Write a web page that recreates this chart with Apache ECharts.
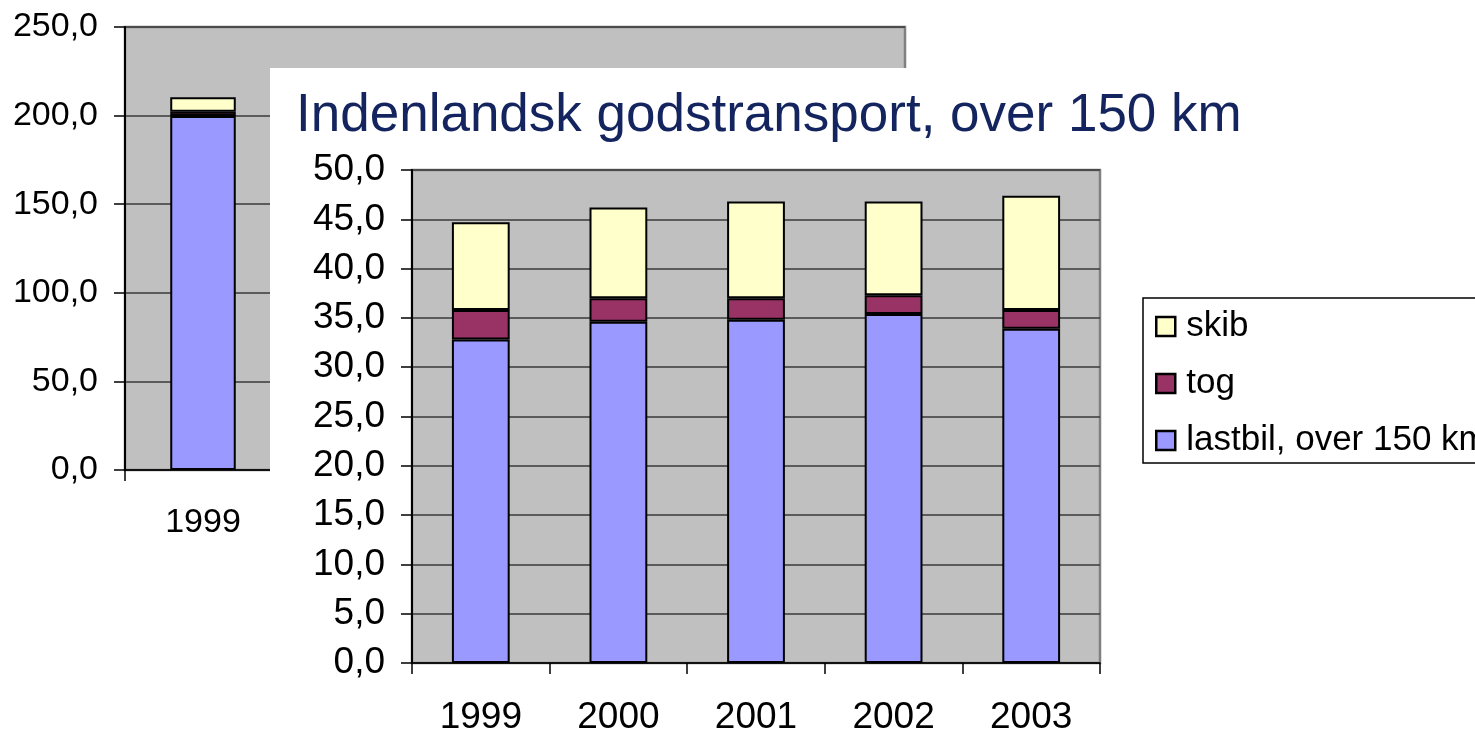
<!DOCTYPE html>
<html>
<head>
<meta charset="utf-8">
<script src="https://cdn.jsdelivr.net/npm/echarts@6/dist/echarts.min.js"></script>
<style>
  html, body { margin: 0; padding: 0; background: #fff; }
  #wrap { position: relative; width: 1475px; height: 736px; overflow: hidden; background: #fff; }
  #back { position: absolute; left: 0; top: 0; width: 1475px; height: 736px; }
  #front { position: absolute; left: 270px; top: 68px; width: 1205px; height: 668px; background: #fff; }
</style>
</head>
<body>
<div id="wrap">
  <div id="back"></div>
  <div id="front"></div>
</div>
<script>
// categories
const years = ['1999', '2000', '2001', '2002', '2003']

// front chart, values
const lastbil = [32.8, 34.6, 34.8, 35.4, 33.9]
const tog = [3.0, 2.4, 2.2, 1.9, 1.9]
const skib = [8.9, 9.2, 9.8, 9.5, 11.6]

// chart behind, only 1999 can be seen
const backLastbil = [199.8, null, null, null, null]
const backTog = [2.4, null, null, null, null]
const backSkib = [8.2, null, null, null, null]

const legendNames = ['skib', 'tog', 'lastbil, over 150 km']
const colors = { lastbil: '#9999FF', tog: '#993366', skib: '#FFFFCC' }

const fontFamily = 'Liberation Sans, Arial, sans-serif'
const fmt = (v) => v.toFixed(1).replace('.', ',')

function barSeries(name, data, color, stack) {
  return {
    name: name,
    type: 'bar',
    stack: stack,
    data: data,
    barWidth: '42%',
    itemStyle: {
      color: color,
      borderColor: '#000',
      borderWidth: 2
    }
  }
}

function axes(max, interval, fontSize, labelMargin) {
  return {
    xAxis: {
      type: 'category',
      data: years,
      axisLine: { show: true, lineStyle: { color: '#000', width: 1.5 } },
      axisTick: { show: true, alignWithLabel: false, length: 11, lineStyle: { color: '#000', width: 1.5 } },
      axisLabel: { color: '#000', fontSize: fontSize, fontFamily: fontFamily, margin: labelMargin },
      splitLine: { show: false }
    },
    yAxis: {
      type: 'value',
      min: 0,
      max: max,
      interval: interval,
      axisLine: { show: true, lineStyle: { color: '#000', width: 2 } },
      axisTick: { show: true, length: 11, lineStyle: { color: '#000', width: 1.5 } },
      axisLabel: {
        color: '#000',
        fontSize: fontSize,
        fontFamily: fontFamily,
        margin: 27,
        formatter: fmt
      },
      splitLine: { show: true, lineStyle: { color: '#3a3a3a', width: 1.5 } }
    }
  }
}

const backChart = echarts.init(document.getElementById('back'))
const backAxes = axes(250, 50, 34, 36)
backChart.setOption({
  animation: false,
  grid: {
    left: 125,
    top: 27,
    width: 780,
    height: 443,
    show: true,
    backgroundColor: '#C0C0C0',
    borderColor: '#808080',
    borderWidth: 2.5
  },
  xAxis: backAxes.xAxis,
  yAxis: backAxes.yAxis,
  series: [
    barSeries('lastbil', backLastbil, colors.lastbil, 'b'),
    barSeries('tog', backTog, colors.tog, 'b'),
    barSeries('skib', backSkib, colors.skib, 'b')
  ]
})

const frontChart = echarts.init(document.getElementById('front'))
const frontAxes = axes(50, 5, 37, 36)
frontChart.setOption({
  animation: false,
  title: {
    text: 'Indenlandsk godstransport, over 150 km',
    left: 26,
    top: 22,
    padding: 0,
    textStyle: {
      color: '#13245E',
      fontSize: 53,
      fontWeight: 'normal',
      fontFamily: fontFamily
    }
  },
  legend: {
    data: legendNames,
    orient: 'vertical',
    left: 873,
    top: 230,
    padding: [11, 60, 5, 12],
    itemGap: 22,
    itemWidth: 19,
    itemHeight: 19,
    icon: 'rect',
    borderColor: '#000',
    borderWidth: 1.5,
    backgroundColor: '#fff',
    itemStyle: { borderColor: '#000', borderWidth: 2.5 },
    textStyle: { color: '#000', fontSize: 35, fontFamily: fontFamily, padding: [0, 0, 0, 6] }
  },
  grid: {
    left: 142,
    top: 102,
    width: 688,
    height: 495,
    show: true,
    backgroundColor: '#C0C0C0',
    borderColor: '#808080',
    borderWidth: 2.5
  },
  xAxis: frontAxes.xAxis,
  yAxis: frontAxes.yAxis,
  series: [
    barSeries('lastbil, over 150 km', lastbil, colors.lastbil, 'f'),
    barSeries('tog', tog, colors.tog, 'f'),
    barSeries('skib', skib, colors.skib, 'f')
  ]
})
</script>
</body>
</html>
